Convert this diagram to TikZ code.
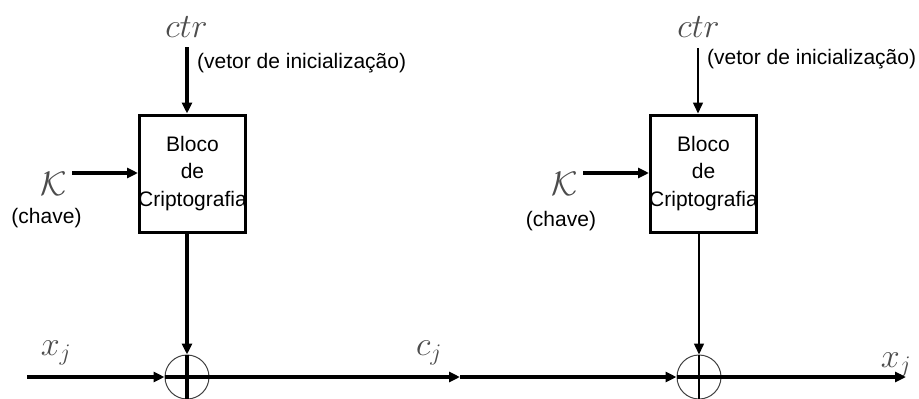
\RequirePackage{fix-cm}
\documentclass[tikz,border=0pt]{standalone}
\usepackage{fontspec}
\setmainfont{Liberation Sans}
\usetikzlibrary{arrows.meta}
\begin{document}
\begin{tikzpicture}[x=1pt,y=-1pt,
  thickln/.style={line width=3.2pt},
  thinln/.style={line width=1.5pt},
  tip/.style={-{Triangle[length=11pt,width=10pt]}},
  blk/.style={draw,line width=3pt,minimum width=106pt,minimum height=117pt,inner xsep=-3pt,inner ysep=0pt,align=center,font=\fontsize{21}{27.5}\selectfont},
  xorc/.style={draw=black!75,circle,minimum size=44pt,inner sep=0pt,line width=1pt},
  mlab/.style={font=\fontsize{34}{40}\selectfont,text=black!70,inner sep=0pt,anchor=base},
  tlab/.style={font=\fontsize{21}{25}\selectfont,inner sep=0pt}]
\useasboundingbox (0,0) rectangle (919,399);

% blocks
\node[blk] (b1) at (192.5,173.5) {Bloco\\de\\Criptografia};
\node[blk] (b2) at (703.5,173.5) {Bloco\\de\\Criptografia};

% xor circles
\node[xorc] (o1) at (187,377) {};
\node[xorc] (o2) at (699,377) {};

% labels
\node[mlab] (ctr1) at (186.5,37) {$ctr$};
\node[mlab] (ctr2) at (698.5,37) {$ctr$};
\node[tlab,anchor=base west] (iv1) at (197,68) {(vetor de inicialização)};
\node[tlab,anchor=base west] (iv2) at (707,64) {(vetor de inicialização)};
\node[mlab] (k1) at (53.5,195) {$\mathcal{K}$};
\node[mlab] (k2) at (565,195) {$\mathcal{K}$};
\node[tlab,anchor=base] (ch1) at (46.5,223) {(chave)};
\node[tlab,anchor=base] (ch2) at (561,226) {(chave)};
\node[mlab] (xj1) at (56,355) {$x_j$};
\node[mlab] (cj) at (429,355) {$c_j$};
\node[mlab] (xj2) at (896,367) {$x_j$};

% coordinates
\coordinate (ct1) at (187,47);
\coordinate (ct2) at (698,48);
\coordinate (ks1) at (72,173);
\coordinate (ks2) at (583,173);
\coordinate (xs) at (27,377);
\coordinate (cm) at (460,377);
\coordinate (xe) at (906,377);

% ctr arrows
\draw[thickln,tip] (ct1) -- (ct1 |- b1.north);
\draw[thinln,tip] (ct2) -- (ct2 |- b2.north);
% key arrows
\draw[thickln,tip] (ks1) -- (ks1 -| b1.west);
\draw[thickln,tip] (ks2) -- (ks2 -| b2.west);
% block to xor
\draw[thickln,tip] (b1.south -| o1) -- (o1.north);
\draw[thickln] (o1.north) -- (o1.south);
\draw[thinln,tip] (b2.south -| o2) -- (o2.north);
\draw[thinln] (o2.north) -- (o2.south);
% horizontal line
\draw[thickln,tip] (xs) -- (o1.west);
\draw[thickln] (o1.west) -- (o1.east);
\draw[thickln,tip] (o1.east) -- (cm);
\draw[thickln,tip] (cm) -- (o2.west);
\draw[thickln] (o2.west) -- (o2.east);
\draw[thickln,tip] (o2.east) -- (xe);
\end{tikzpicture}
\end{document}
